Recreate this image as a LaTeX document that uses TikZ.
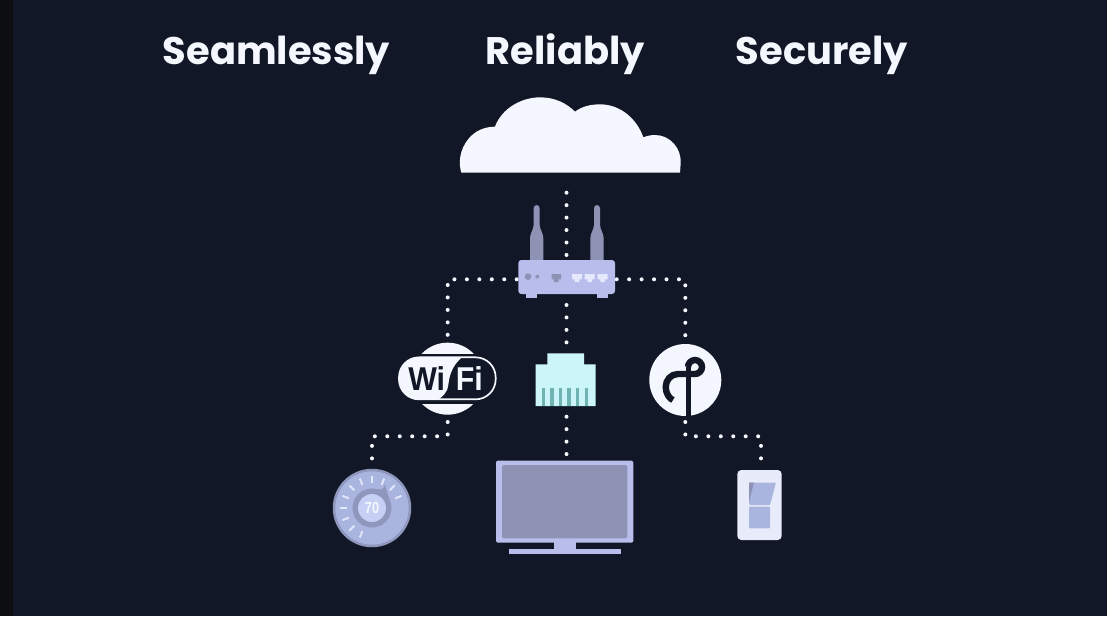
\documentclass[tikz,border=0pt]{standalone}
\usepackage{fontspec}
\setmainfont{Poppins}
\newfontfamily\wifont{Liberation Sans}
\definecolor{bgc}{HTML}{111726}
\definecolor{stripc}{HTML}{0D0E0F}
\definecolor{whitec}{HTML}{F4F8FE}
\definecolor{bodyc}{HTML}{B8BDEB}
\definecolor{darkc}{HTML}{8E93B6}
\definecolor{knobc}{HTML}{A9B4DF}
\definecolor{ringc}{HTML}{8F97BC}
\definecolor{centerc}{HTML}{C6D0F4}
\definecolor{rjc}{HTML}{CBF5F9}
\definecolor{pinc}{HTML}{6FB4B2}
\definecolor{portc}{HTML}{E6E9FB}
\definecolor{switchc}{HTML}{E8ECFA}
\tikzset{
  anchorbox/.style={inner sep=0pt,outer sep=0pt},
  dots/.style={draw=whitec,line width=4pt,line cap=round,dash pattern=on 0pt off 12.45pt},
  heading/.style={text=whitec,font=\bfseries\fontsize{38.4}{42}\selectfont,anchor=base,inner sep=0pt},
  wilabel/.style={font=\wifont\bfseries\fontsize{33}{33}\selectfont,anchor=base,inner sep=0pt,xscale=.92},
}
\begin{document}
\begin{tikzpicture}[x=1pt,y=-1pt]
\useasboundingbox (0,0) rectangle (1107,616);
\fill[bgc] (0,0) rectangle (1107,616);
\fill[stripc] (0,0) rectangle (13,616);
% headings
\node[heading] (h1) at (276.5,64) {Seamlessly};
\node[heading] (h2) at (565.5,64) {Reliably};
\node[heading] (h3) at (822,64) {Securely};
% layout nodes
\node[anchorbox,minimum width=120pt,minimum height=76pt] (cloud) at (566.5,135) {};
\node[anchorbox,minimum width=97pt,minimum height=37pt] (router) at (566.5,279.3) {};
\node[anchorbox,minimum width=72pt,minimum height=72pt] (wifi) at (447.7,379) {};
\node[anchorbox,minimum width=61pt,minimum height=54pt] (rj) at (566.5,380) {};
\node[anchorbox,minimum width=72pt,minimum height=72pt] (thread) at (685.3,380) {};
\node[anchorbox,minimum width=78pt,minimum height=78pt] (nest) at (372,508) {};
\node[anchorbox,minimum width=137pt,minimum height=94pt] (tv) at (566.5,508) {};
\node[anchorbox,minimum width=45pt,minimum height=70pt] (sw) at (761,505) {};
\coordinate (wifibus) at (447.7,436.3);
\coordinate (threadbus) at (685.3,436.3);
% connectors
\draw[dots,shorten <=19.7pt,shorten >=5pt] (cloud.south) -- (router.north);
\draw[dots,shorten <=1.3pt,shorten >=7pt] (router.west) -| (wifi.north);
\draw[dots,shorten <=1.7pt,shorten >=8pt] (router.east) -| (thread.north);
\draw[dots,shorten <=7.2pt,shorten >=10pt] (router.south) -- (rj.north);
\draw[dots,shorten <=9.7pt,shorten >=6pt] (rj.south) -- (tv.north);
\draw[dots,shorten <=7pt,shorten >=9pt] (wifi.south) -- (wifibus) -| (nest.north);
\draw[dots,shorten <=6pt,shorten >=10pt] (thread.south) -- (threadbus) -| (sw.north);
% cloud and router (3x crop coordinates)
\begin{scope}[shift={(440,80)},scale=1/3]
\fill[whitec] (64,278) .. controls (55,250) and (58,210) .. (85,177) .. controls (105,152) and (135,140) .. (165,140) .. controls (185,85) and (245,52) .. (300,52) .. controls (345,52) and (380,70) .. (405,95) .. controls (425,80) and (450,73) .. (480,73) .. controls (540,73) and (590,115) .. (610,172) .. controls (620,168) and (632,165) .. (645,165) .. controls (690,165) and (725,205) .. (722,250) .. controls (722,262) .. (720,278) -- cycle;
\foreach \dx in {0,181}{
 \fill[darkc] (270+\dx,545) -- (270+\dx,475) .. controls (270+\dx,460) and (280+\dx,450) .. (281+\dx,435) -- (281+\dx,385) .. controls (281+\dx,372) and (299+\dx,372) .. (299+\dx,385) -- (299+\dx,435) .. controls (300+\dx,450) and (310+\dx,460) .. (310+\dx,475) -- (310+\dx,545) -- cycle;
}
\fill[bodyc] (257,635) rectangle (290,654);
\fill[bodyc] (470,635) rectangle (503,654);
\fill[bodyc,rounded corners=3pt] (235,540) rectangle (525,642);
\fill[darkc] (264,590) circle[radius=10];
\fill[darkc] (292,590) circle[radius=6];
\fill[darkc] (335,582) -- (363,582) -- (363,598) -- (356,598) -- (356,606) -- (342,606) -- (342,598) -- (335,598) -- cycle;
\foreach \px in {396,434,473}{
 \fill[portc] (\px,582) -- (\px+30,582) -- (\px+30,598) -- (\px+22,598) -- (\px+22,606) -- (\px+8,606) -- (\px+8,598) -- (\px,598) -- cycle;
}
\end{scope}
% wifi, jack (3x crop coordinates)
\begin{scope}[shift={(380,330)},scale=1/3]
\fill[whitec] (203,146) circle[radius=108];
\fill[bgc] (90,72) rectangle (316,222);
\fill[bgc,draw=whitec,line width=1.7pt,rounded corners=20pt] (57,82) rectangle (347,208);
\begin{scope}
 \clip[rounded corners=20pt] (57,82) rectangle (347,208);
 \fill[whitec] (40,70) -- (262,70) .. controls (222,95) and (208,130) .. (205,165) .. controls (203,185) and (190,200) .. (165,215) -- (40,215) -- cycle;
\end{scope}
\node[wilabel,text=bgc] (wi) at (140,180) {Wi};
\node[wilabel,text=whitec] (fi) at (268,180) {Fi};
\fill[rjc] (502,70) -- (612,70) -- (612,103) -- (647,103) -- (647,228) -- (467,228) -- (467,103) -- (502,103) -- cycle;
\foreach \px in {490,516,541,567,593,619}{
 \fill[pinc] (\px-5,175) rectangle (\px+5,228);
}
\end{scope}
% thread logo
\fill[whitec] (thread.center) circle[radius=36];
\draw[bgc,line width=5pt] (688,417) -- (688,367);
\draw[bgc,line width=6.4pt] (688,367) .. controls (688,363.2) and (691.2,360) .. (695,360) .. controls (698.8,360) and (702,363.2) .. (702,367) .. controls (702,370.8) and (698.8,374) .. (695,374) -- (678,374) .. controls (671,374) and (665.7,380) .. (665.7,387) .. controls (665.7,394) and (670,399) .. (673,400);
% thermostat
\fill[knobc,draw=ringc,line width=2.5pt] (nest.center) circle[radius=38];
\foreach \k in {-7,...,3}{
 \draw[centerc!40!whitec,line width=1.9pt,shift={(nest.center)},rotate=-\k*22.5] (0,-25) -- (0,-32);
}
\fill[ringc] (385,484) .. controls (383,490) .. (372,489) -- (391,508) .. controls (390,497) and (386,492) .. cycle;
\fill[ringc] (nest.center) circle[radius=19.5];
\fill[centerc] (nest.center) circle[radius=14];
\node[font=\wifont\bfseries\fontsize{16}{16}\selectfont,text=whitec,inner sep=0pt,xscale=.8] (temp) at (nest.center) {70};
% television (3x crop coordinates)
\begin{scope}[shift={(320,420)},scale=1/3]
\fill[bodyc] (702,360) rectangle (768,390);
\fill[bodyc] (567,386) rectangle (902,403);
\fill[bodyc,rounded corners=1.5pt] (528,122) rectangle (940,368);
\fill[darkc,rounded corners=1.5pt] (546,135) rectangle (922,355);
\end{scope}
% switch (3x crop coordinates)
\begin{scope}[shift={(670,420)},scale=1/3]
\fill[switchc,rounded corners=4pt] (202,150) rectangle (335,360);
\fill[knobc,rounded corners=1pt] (237,188) -- (318,188) -- (300,255) -- (237,255) -- cycle;
\fill[darkc] (237,188) -- (252,188) -- (237,245) -- cycle;
\fill[knobc,rounded corners=1pt] (237,260) rectangle (300,325);
\end{scope}
\end{tikzpicture}
\end{document}
